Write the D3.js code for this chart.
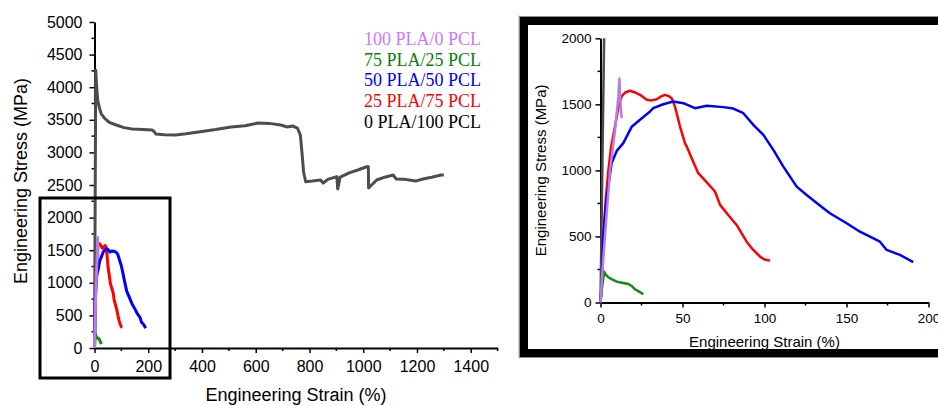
<!DOCTYPE html>
<html>
<head>
<meta charset="utf-8">
<script src="https://cdn.jsdelivr.net/npm/d3@7"></script>
<style>
  body { margin: 0; background: #fff; }
  svg { display: block; }
  .tick text { font-family: "Liberation Sans", Arial, sans-serif; fill: #000; }
  .domain, .tick line { stroke: #000; }
</style>
</head>
<body>
<div id="chart"></div>
<script>
// DATA  [strain %, stress MPa]
const seriesNames = ["100 PLA/0 PCL", "75 PLA/25 PCL", "50 PLA/50 PCL", "25 PLA/75 PCL", "0 PLA/100 PCL"];

const pla100 = [[0,0],[0.8,170],[2.7,500],[5.8,1000],[8.8,1300],[10.9,1560],[11.5,1695],[12,1550],[12.9,1395]];

const pla75 = [[0,0],[1,120],[2.3,233],[3,215],[4.8,191],[7,175],[9.9,158],[13,150],[17,140],[19,125],
  [21,100],[23.5,82],[26.1,62]];

const pla50 = [[0,0],[1,200],[1.7,500],[3.8,800],[6.8,1055],[10,1150],[13.9,1206],[19,1330],[24.1,1383],
  [30.2,1446],[32.2,1471],[38.3,1501],[44.4,1521],[50.5,1509],[57.6,1471],[64.8,1489],[74.9,1479],[81,1468],
  [87.1,1433],[93.2,1345],[99.3,1269],[105.4,1155],[111.5,1029],[119.6,877],[125.7,814],[135.9,714],
  [139.9,676],[150.1,600],[158.2,536],[170.4,460],[174.5,398],[182.6,360],[190.7,305]];

const pla25 = [[0,0],[0.8,150],[1.7,500],[3,750],[4.8,1000],[6.5,1180],[8.8,1330],[11,1480],[12.9,1560],
  [15,1590],[18,1603],[21,1590],[24.1,1572],[28.2,1534],[31,1530],[34.3,1539],[37,1560],[39.3,1572],
  [42,1560],[43.4,1547],[45.4,1483],[48.5,1332],[51.5,1206],[52.6,1180],[55.6,1092],[59.6,979],[64,920],
  [69.8,840],[72.9,739],[78,660],[83,587],[89.1,460],[93,400],[97.3,347],[100,325],[103.4,317]];

const pla0 = [[0,0],[2.2,2000],[4.7,4260],[8,4000],[12,3800],[18,3690],[25,3590],[37,3527],[55,3460],
  [81,3420],[110,3380],[140,3360],[180,3350],[214,3344],[222,3320],[228,3282],[260,3270],[302,3267],
  [340,3285],[387,3313],[450,3350],[508,3390],[560,3410],[608,3450],[650,3445],[693,3420],[718,3390],
  [737,3405],[755,3374],[766,3267],[772,3000],[778,2700],[786,2550],[810,2560],[841,2577],[851,2530],
  [870,2590],[902,2627],[905,2439],[914,2620],[950,2690],[980,2730],[1013,2780],[1019,2780],[1020,2454],
  [1050,2577],[1080,2620],[1111,2653],[1123,2592],[1150,2590],[1171,2577],[1195,2560],[1222,2592],
  [1255,2620],[1289,2653],[1300,2655]];

const mainXTicks = [0, 200, 400, 600, 800, 1000, 1200, 1400];
const mainYTicks = [0, 500, 1000, 1500, 2000, 2500, 3000, 3500, 4000, 4500, 5000];
const insetXTicks = [0, 50, 100, 150, 200];
const insetYTicks = [0, 500, 1000, 1500, 2000];

// STYLE
const lineColors = ["#b57ee6", "#138a13", "#0000ff", "#ff0000", "#4d4d4d"];
const legendColors = ["#cc77ff", "#0a800a", "#0000ff", "#ff0000", "#000000"];
const allSeries = [pla100, pla75, pla50, pla25, pla0];
const drawOrder = [4, 3, 2, 1, 0];
const fmt = d3.format('d');

const w = 938, h = 405;
const svg = d3.select('#chart').append('svg')
    .attr('width', w)
    .attr('height', h);

// MAIN CHART
const x = d3.scaleLinear().domain([0, 1500]).range([94.5, 497.6]);
const y = d3.scaleLinear().domain([0, 5000]).range([348, 22]);

const mainXAxis = d3.axisBottom(x).tickValues(mainXTicks).tickFormat(fmt)
    .tickSize(5).tickPadding(8).tickSizeOuter(0);
const mainYAxis = d3.axisLeft(y).tickValues(mainYTicks).tickFormat(fmt)
    .tickSize(5).tickPadding(7).tickSizeOuter(0);

function minorTicks(g, scale, values, orient, len) {
    g.selectAll('line.minor')
        .data(values)
        .enter()
        .append('line')
        .attr('class', 'minor')
        .attr('stroke', '#000')
        .attr('stroke-width', 1.5)
        .attr('x1', d => orient === 'x' ? scale(d) : 0)
        .attr('x2', d => orient === 'x' ? scale(d) : -len)
        .attr('y1', d => orient === 'x' ? 0 : scale(d))
        .attr('y2', d => orient === 'x' ? len : scale(d));
}

const gx = svg.append('g')
    .attr('transform', `translate(0, ${y(0)})`)
    .call(mainXAxis);
minorTicks(gx, x, [100, 300, 500, 700, 900, 1100, 1300, 1500], 'x', 3);
gx.selectAll('text').attr('font-size', 16);

const gy = svg.append('g')
    .attr('transform', `translate(${x(0)}, 0)`)
    .call(mainYAxis);
minorTicks(gy, y, d3.range(250, 5000, 500), 'y', 3);
gy.selectAll('text').attr('font-size', 16);

svg.selectAll('.domain').attr('stroke-width', 2);
svg.selectAll('.tick line').attr('stroke-width', 1.5);

const line = d3.line().x(d => x(d[0])).y(d => y(d[1]));
drawOrder.forEach(i => {
    svg.append('path')
        .datum(allSeries[i])
        .attr('fill', 'none')
        .attr('stroke', lineColors[i])
        .attr('stroke-width', 3)
        .attr('stroke-linejoin', 'round')
        .attr('d', line);
});

// zoom box
svg.append('rect')
    .attr('x', 40).attr('y', 198)
    .attr('width', 130).attr('height', 180)
    .attr('fill', 'none')
    .attr('stroke', '#000')
    .attr('stroke-width', 3);

// axis titles
svg.append('text')
    .attr('x', (x(0) + x(1500)) / 2).attr('y', 401)
    .attr('text-anchor', 'middle')
    .attr('font-family', 'Liberation Sans, Arial, sans-serif')
    .attr('font-size', 18)
    .text('Engineering Strain (%)');
svg.append('text')
    .attr('transform', 'translate(26.5, 181) rotate(-90)')
    .attr('text-anchor', 'middle')
    .attr('font-family', 'Liberation Sans, Arial, sans-serif')
    .attr('font-size', 18)
    .text('Engineering Stress (MPa)');

// LEGEND
svg.selectAll('text.legend')
    .data(seriesNames)
    .enter()
    .append('text')
    .attr('class', 'legend')
    .attr('x', 364)
    .attr('y', (d, i) => 45 + i * 20.7)
    .attr('font-family', 'Liberation Serif, Times New Roman, serif')
    .attr('font-size', 18)
    .attr('fill', (d, i) => legendColors[i])
    .text(d => d);

// divider
svg.append('line')
    .attr('x1', 518.5).attr('x2', 518.5)
    .attr('y1', 15).attr('y2', 357)
    .attr('stroke', '#d0d0d0')
    .attr('stroke-width', 1);

// INSET PANEL
svg.append('rect')
    .attr('x', 524).attr('y', 21)
    .attr('width', 500).attr('height', 332)
    .attr('fill', '#fff')
    .attr('stroke', '#8a8a8a')
    .attr('stroke-width', 10);
svg.append('rect')
    .attr('x', 524).attr('y', 21)
    .attr('width', 500).attr('height', 332)
    .attr('fill', '#fff')
    .attr('stroke', '#000')
    .attr('stroke-width', 8);

const xi = d3.scaleLinear().domain([0, 200]).range([600.5, 928.5]);
const yi = d3.scaleLinear().domain([0, 2000]).range([302.5, 38.3]);

svg.append('clipPath')
    .attr('id', 'inset-clip')
    .append('rect')
    .attr('x', xi(0) - 5).attr('y', yi(2000))
    .attr('width', xi(200) - xi(0) + 10).attr('height', yi(0) - yi(2000) + 5);

const insetX = d3.axisBottom(xi).tickValues(insetXTicks).tickFormat(fmt)
    .tickSize(5).tickPadding(6).tickSizeOuter(0);
const insetY = d3.axisLeft(yi).tickValues(insetYTicks).tickFormat(fmt)
    .tickSize(5).tickPadding(4).tickSizeOuter(0);

const gxi = svg.append('g')
    .attr('class', 'inset-axis')
    .attr('transform', `translate(0, ${yi(0)})`)
    .call(insetX);
minorTicks(gxi, xi, [25, 75, 125, 175], 'x', 3);
gxi.selectAll('text').attr('font-size', 13.5);

const gyi = svg.append('g')
    .attr('class', 'inset-axis')
    .attr('transform', `translate(${xi(0)}, 0)`)
    .call(insetY);
minorTicks(gyi, yi, [250, 750, 1250, 1750], 'y', 3);
gyi.selectAll('text').attr('font-size', 13.5);

svg.selectAll('.inset-axis .domain').attr('stroke-width', 2);
svg.selectAll('.inset-axis .tick line').attr('stroke-width', 1.5);

const lineInset = d3.line().x(d => xi(d[0])).y(d => yi(d[1]));
const insetLines = svg.append('g').attr('clip-path', 'url(#inset-clip)');
drawOrder.forEach(i => {
    insetLines.append('path')
        .datum(allSeries[i])
        .attr('fill', 'none')
        .attr('stroke', lineColors[i])
        .attr('stroke-width', 2.5)
        .attr('stroke-linejoin', 'round')
        .attr('d', lineInset);
});

svg.append('text')
    .attr('x', (xi(0) + xi(200)) / 2).attr('y', 346.5)
    .attr('text-anchor', 'middle')
    .attr('font-family', 'Liberation Sans, Arial, sans-serif')
    .attr('font-size', 15)
    .text('Engineering Strain (%)');
svg.append('text')
    .attr('transform', `translate(545.5, ${(yi(0) + yi(2000)) / 2}) rotate(-90)`)
    .attr('text-anchor', 'middle')
    .attr('font-family', 'Liberation Sans, Arial, sans-serif')
    .attr('font-size', 15)
    .text('Engineering Stress (MPa)');
</script>
</body>
</html>
